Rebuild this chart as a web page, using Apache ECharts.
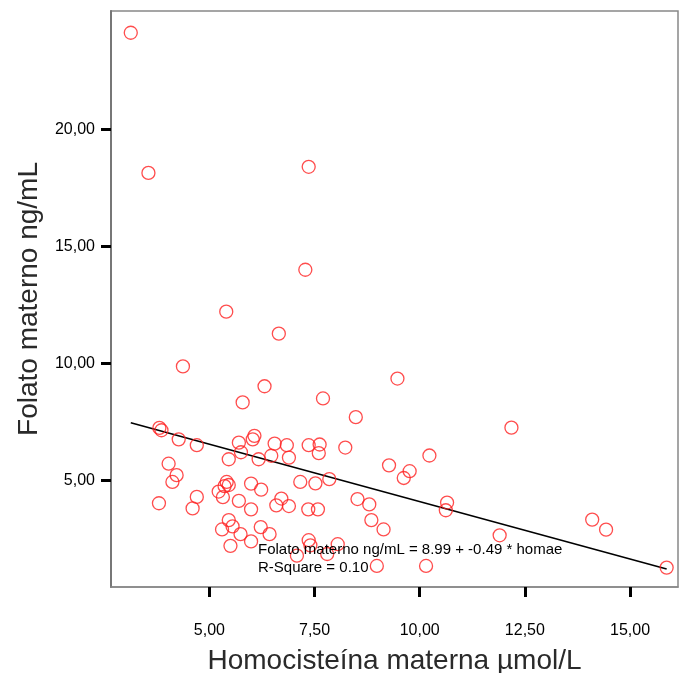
<!DOCTYPE html>
<html>
<head>
<meta charset="utf-8">
<script src="https://cdn.jsdelivr.net/npm/echarts@6/dist/echarts.min.js"></script>
<style>
html,body{margin:0;padding:0;background:#fff;}
#chart{width:679px;height:673px;}
</style>
</head>
<body>
<div id="chart"></div>
<script>
// Homocisteína materna (µmol/L)
const homocisteina = [3.13,3.55,7.36,7.28,5.40,6.65,4.37,6.31,9.47,5.79,7.70,8.48,12.18,3.81,3.86,4.27,4.70,5.70,6.07,6.03,6.55,6.84,7.36,7.62,7.60,8.23,10.23,5.75,5.46,6.17,6.47,6.89,4.03,4.22,4.12,9.27,9.76,9.62,3.80,4.70,4.60,5.41,5.36,5.22,5.32,5.99,6.23,5.70,6.71,6.89,6.59,7.16,7.52,7.85,8.52,8.80,10.65,10.62,7.35,7.58,8.85,9.14,5.99,5.46,5.30,5.55,5.74,5.99,5.50,6.22,6.43,7.36,7.40,8.05,7.08,7.80,8.98,10.15,11.90,14.10,14.43,15.87,5.46];
// Folato materno (ng/mL)
const folato = [24.13,18.14,18.40,14.00,12.21,11.27,9.87,9.02,9.35,8.33,8.50,7.70,7.25,7.24,7.14,6.75,6.50,6.61,6.90,6.75,6.57,6.50,6.50,6.53,6.16,6.40,6.06,6.20,5.90,5.90,6.05,5.97,5.71,5.22,4.93,5.64,5.39,5.10,4.02,4.29,3.80,4.93,4.75,4.52,4.28,4.86,4.60,4.12,4.22,3.90,3.93,4.93,4.87,5.05,4.20,3.97,4.05,3.72,3.76,3.76,3.30,2.90,3.76,3.30,2.90,3.03,2.70,2.39,2.20,3.00,2.70,2.44,2.22,2.27,1.78,1.85,1.34,1.34,2.65,3.32,2.89,1.27,4.80];
const xTicks = [5, 7.5, 10, 12.5, 15];
const yTicks = [5, 10, 15, 20];
const intercept = 8.99;
const slope = -0.49;
const eqText = 'Folato materno ng/mL = 8.99 + -0.49 * homae';
const r2Text = 'R-Square = 0.10';

const pts = homocisteina.map((x, i) => [x, folato[i]]);
const xmin = Math.min(...homocisteina), xmax = Math.max(...homocisteina);
const fitLine = [[xmin, intercept + slope * xmin], [xmax, intercept + slope * xmax]];
const fmt = v => v.toFixed(2).replace('.', ',');
const FONT = 'Liberation Sans, Arial, sans-serif';

const chart = echarts.init(document.getElementById('chart'));
chart.setOption({
  animation: false,
  backgroundColor: '#fff',
  grid: {left: 111, top: 11, right: 1, bottom: 86, show: true, borderColor: '#888', borderWidth: 1.5, backgroundColor: '#fff', outerBoundsMode: 'none', containLabel: false},
  xAxis: {
    type: 'value', min: 2.66, max: 16.14,
    name: 'Homocisteína materna µmol/L', nameLocation: 'middle', nameGap: 60,
    nameTextStyle: {fontFamily: FONT, fontSize: 28, color: '#2a2a2a'},
    splitLine: {show: false},
    axisLine: {show: true, onZero: false, lineStyle: {color: '#888', width: 1.5}},
    axisTick: {show: true, length: 10, lineStyle: {color: '#000', width: 3}, customValues: xTicks},
    axisLabel: {customValues: xTicks, formatter: fmt, fontFamily: FONT, fontSize: 16, color: '#000', margin: 36}
  },
  yAxis: {
    type: 'value', min: 0.44, max: 25.06,
    name: 'Folato materno ng/mL', nameLocation: 'middle', nameGap: 68, nameRotate: 90,
    nameTextStyle: {fontFamily: FONT, fontSize: 28, color: '#2a2a2a'},
    splitLine: {show: false},
    axisLine: {show: true, onZero: false, lineStyle: {color: '#777', width: 2}},
    axisTick: {show: true, length: 10, lineStyle: {color: '#000', width: 3}, customValues: yTicks},
    axisLabel: {customValues: yTicks, formatter: fmt, fontFamily: FONT, fontSize: 16, color: '#000', margin: 16}
  },
  series: [
    {
      type: 'scatter', data: pts, symbol: 'circle', symbolSize: 13,
      itemStyle: {color: 'rgba(255,255,255,0)', borderColor: '#ff2020', borderWidth: 1.3},
      z: 3
    },
    {
      type: 'line', data: fitLine, symbol: 'none',
      lineStyle: {color: '#000', width: 1.6}, z: 2
    }
  ],
  graphic: [
    {type: 'text', left: 258, top: 542, z: 10, style: {text: eqText, font: '15px ' + FONT, fill: '#000'}},
    {type: 'text', left: 258, top: 560, z: 10, style: {text: r2Text, font: '15px ' + FONT, fill: '#000'}}
  ]
});
</script>
</body>
</html>
